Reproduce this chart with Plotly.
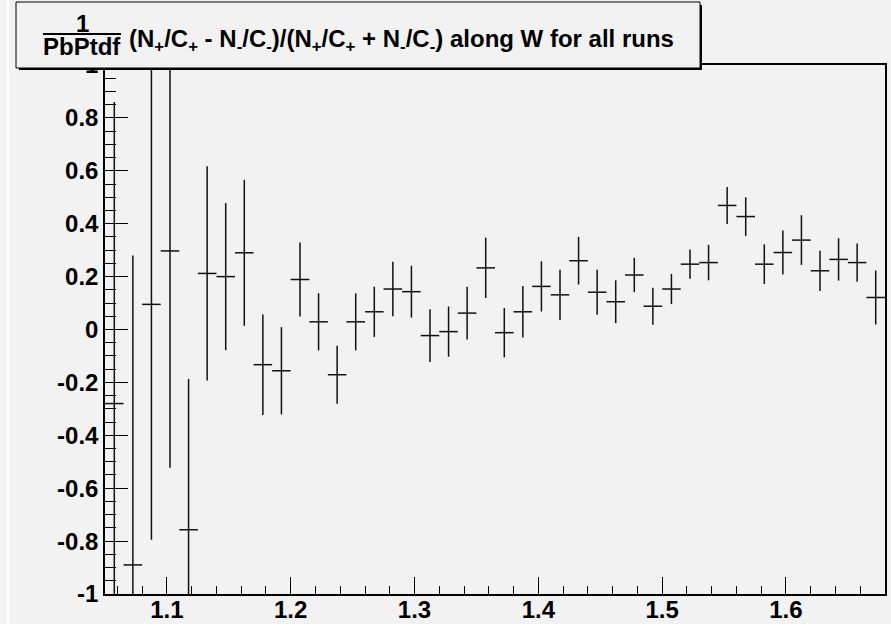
import plotly.graph_objects as go

# Bin centres in W (bin width 0.015)
bin_centers = [
    1.0575, 1.0725, 1.0875, 1.1025, 1.1175, 1.1325, 1.1475, 1.1625, 1.1775, 1.1925,
    1.2075, 1.2225, 1.2375, 1.2525, 1.2675, 1.2825, 1.2975, 1.3125, 1.3275, 1.3425,
    1.3575, 1.3725, 1.3875, 1.4025, 1.4175, 1.4325, 1.4475, 1.4625, 1.4775, 1.4925,
    1.5075, 1.5225, 1.5375, 1.5525, 1.5675, 1.5825, 1.5975, 1.6125, 1.6275, 1.6425,
    1.6575, 1.6725,
]
bin_half_width = 0.0075

# Normalised asymmetry per bin and its statistical error
asymmetry = [
    -0.280, -0.890, 0.095, 0.297, -0.757, 0.212, 0.200, 0.290, -0.133, -0.156,
    0.189, 0.029, -0.171, 0.029, 0.067, 0.153, 0.143, -0.023, -0.008, 0.062,
    0.233, -0.012, 0.067, 0.163, 0.131, 0.260, 0.141, 0.105, 0.206, 0.088,
    0.153, 0.247, 0.253, 0.469, 0.427, 0.247, 0.291, 0.338, 0.222, 0.265,
    0.253, 0.121,
]
asymmetry_err = [
    1.140, 1.170, 0.890, 0.820, 0.570, 0.405, 0.278, 0.276, 0.190, 0.165,
    0.140, 0.108, 0.110, 0.108, 0.095, 0.103, 0.098, 0.100, 0.095, 0.100,
    0.114, 0.093, 0.097, 0.095, 0.095, 0.090, 0.085, 0.081, 0.065, 0.070,
    0.057, 0.055, 0.067, 0.070, 0.073, 0.075, 0.083, 0.094, 0.076, 0.080,
    0.072, 0.102,
]

y_tick_vals = [-1, -0.8, -0.6, -0.4, -0.2, 0, 0.2, 0.4, 0.6, 0.8, 1]
y_tick_text = ["-1", "-0.8", "-0.6", "-0.4", "-0.2", "0", "0.2", "0.4", "0.6", "0.8", "1"]
x_tick_vals = [1.1, 1.2, 1.3, 1.4, 1.5, 1.6]
x_tick_text = ["1.1", "1.2", "1.3", "1.4", "1.5", "1.6"]

title_main = ("(N<sub>+</sub>/C<sub>+</sub> - N<sub>-</sub>/C<sub>-</sub>)/"
              "(N<sub>+</sub>/C<sub>+</sub> + N<sub>-</sub>/C<sub>-</sub>) along W for all runs")

W, H = 891, 624
L, R, T, B = 105, 885, 65, 594
BG = "#f2f2f2"
FONT = "Liberation Sans"


def px(x):
    return (x - L) / (R - L)


def py(y):
    return (B - y) / (B - T)


fig = go.Figure()
fig.add_trace(go.Scatter(
    x=bin_centers,
    y=asymmetry,
    mode="markers",
    marker=dict(size=2, color="rgba(0,0,0,0)"),
    error_y=dict(type="data", array=asymmetry_err, visible=True,
                 color="#111111", thickness=1.5, width=0),
    error_x=dict(type="constant", value=bin_half_width, visible=True,
                 color="#111111", thickness=1.5, width=0),
    showlegend=False,
    hoverinfo="skip",
))

tick_font = dict(family=FONT, size=24, color="black", weight="bold")

fig.update_xaxes(
    range=[1.05, 1.68], automargin=False,
    showgrid=False, zeroline=False,
    showline=True, mirror=True, linecolor="black", linewidth=1.5,
    ticks="inside", ticklen=17, tickwidth=1, tickcolor="black",
    tickmode="array", tickvals=x_tick_vals, ticktext=x_tick_text,
    tickfont=tick_font, ticklabelstandoff=-7,
    minor=dict(ticks="inside", ticklen=8, tickwidth=1, tickcolor="black",
               dtick=0.02, tick0=1.0, showgrid=False),
)
fig.update_yaxes(
    range=[-1, 1], automargin=False,
    showgrid=False, zeroline=False,
    showline=True, mirror=True, linecolor="black", linewidth=1.5,
    ticks="inside", ticklen=23, tickwidth=1, tickcolor="black",
    tickmode="array", tickvals=y_tick_vals, ticktext=y_tick_text,
    tickfont=tick_font,
    minor=dict(ticks="inside", ticklen=11, tickwidth=1, tickcolor="black",
               dtick=0.05, tick0=0, showgrid=False),
)

shapes = [
    # thin light strip at the left edge of the canvas
    dict(type="rect", xref="paper", yref="paper", x0=px(7), x1=px(9), y0=py(H), y1=py(0),
         fillcolor="white", line=dict(width=0), layer="above"),
    # title box shadow
    dict(type="rect", xref="paper", yref="paper", x0=px(19), x1=px(702), y0=py(70), y1=py(5),
         fillcolor="black", line=dict(width=0), layer="above"),
    # title box
    dict(type="rect", xref="paper", yref="paper", x0=px(16), x1=px(700), y0=py(68), y1=py(2),
         fillcolor=BG, line=dict(color="black", width=1), layer="above"),
    # fraction bar
    dict(type="line", xref="paper", yref="paper", x0=px(43), x1=px(121), y0=py(34), y1=py(34),
         line=dict(color="black", width=2), layer="above"),
]

title_font = dict(family=FONT, size=24, color="black", weight="bold")
annotations = [
    dict(text="1", xref="paper", yref="paper", x=px(82), y=py(24),
         xanchor="center", yanchor="middle", showarrow=False, font=title_font),
    dict(text="PbPtdf", xref="paper", yref="paper", x=px(82), y=py(47),
         xanchor="center", yanchor="middle", showarrow=False, font=title_font),
    dict(text=title_main, xref="paper", yref="paper", x=px(127), y=py(40),
         xanchor="left", yanchor="middle", showarrow=False, font=title_font),
]

fig.update_layout(
    width=W, height=H,
    margin=dict(l=L, r=W - R, t=T, b=H - B, pad=0, autoexpand=False),
    paper_bgcolor=BG, plot_bgcolor=BG,
    showlegend=False,
    shapes=shapes,
    annotations=annotations,
)

fig.write_html("out.html")
